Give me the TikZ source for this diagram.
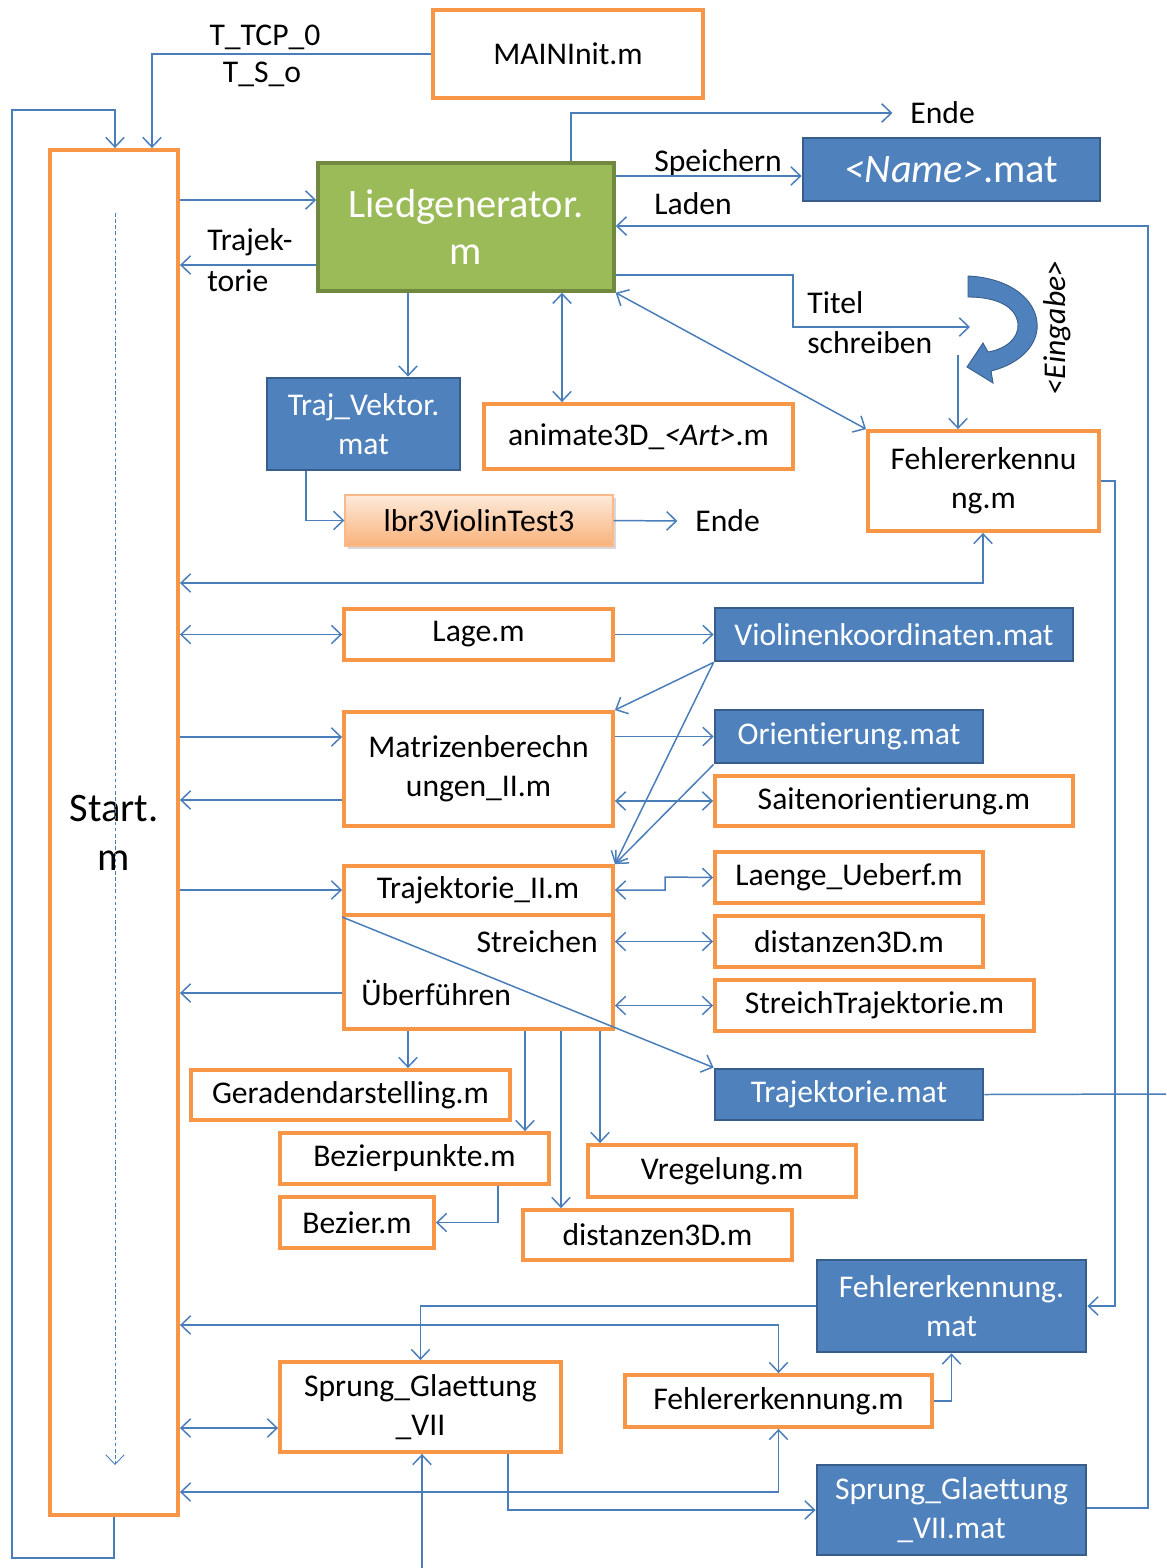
\documentclass[tikz,border=0pt]{standalone}
\usepackage{fontspec}
\setmainfont[Ligatures=NoCommon]{Carlito}
\usetikzlibrary{arrows.meta,shadows}
\definecolor{obord}{HTML}{F79646}
\definecolor{bfill}{HTML}{4F81BD}
\definecolor{bbord}{HTML}{385D8A}
\definecolor{gfill}{HTML}{9BBB59}
\definecolor{gbord}{HTML}{71893F}
\definecolor{conn}{HTML}{4A7EBB}
\definecolor{lbrtop}{HTML}{FDEADA}
\definecolor{lbrbot}{HTML}{F9B27A}
\definecolor{lbrline}{HTML}{F9B98A}

% box from its corner pixels: name, style, x1, y1, x2, y2, text
\newcommand\mkbox[7]{%
  \pgfmathsetmacro\mkw{(#5-#3)*0.02}%
  \pgfmathsetmacro\mkh{(#6-#4)*0.02}%
  \node[#2, minimum width=\mkw cm, minimum height=\mkh cm] (#1) at ({(#3+#5)/2},{(#4+#6)/2}) {#7};%
}

\begin{document}
\begin{tikzpicture}[x=0.02cm,y=-0.02cm,
  every node/.style={font=\fontsize{18}{22}\selectfont, inner sep=0pt},
  obox/.style={draw=obord, line width=2.2pt, fill=white, align=center},
  bbox/.style={draw=bbord, line width=1.6pt, fill=bfill, text=white, align=center},
  gbox/.style={draw=gbord, line width=2pt, fill=gfill, text=white, align=center,
               font=\fontsize{23}{27}\selectfont},
  lbrbox/.style={draw=lbrline, line width=0.8pt, top color=lbrtop, bottom color=lbrbot,
               drop shadow={shadow xshift=1.5pt, shadow yshift=-1.5pt, opacity=0.3}},
  wire/.style={draw=conn, line width=0.85pt},
  >={Straight Barb[length=5.5pt,width=10.5pt]}
]
\useasboundingbox (0,0) rectangle (1166,1568);
\fill[white] (0,0) rectangle (1166,1568);

% ---------- boxes ----------
\mkbox{main}{obox}{433}{10}{703}{98}{MAINInit.m}
\mkbox{start}{obox, font=\fontsize{23}{28}\selectfont}{50}{150}{178}{1515}{Start.\\m}
\mkbox{lied}{gbox}{318}{163}{614}{291}{Liedgenerator.\\m}
\mkbox{name}{bbox, font=\fontsize{23}{27}\selectfont}{803}{138}{1100}{201}{{\itshape <Name>}.mat}
\mkbox{tvek}{bbox}{267}{378}{460}{470}{Traj\_Vektor.\\mat}
\mkbox{anim}{obox}{484}{404}{793}{469}{animate3D\_{\itshape <Art>}.m}
\mkbox{fehl1}{obox}{868}{431}{1099}{531}{Fehlererkennu\\ng.m}
\mkbox{lbr}{lbrbox}{345}{495}{613}{546}{lbr3ViolinTest3}
\mkbox{lage}{obox}{344}{609}{613}{660}{Lage.m}
\mkbox{viol}{bbox}{715}{608}{1073}{661}{Violinenkoordinaten.mat}
\mkbox{matr}{obox}{344}{712}{613}{826}{Matrizenberechn\\ungen\_II.m}
\mkbox{orie}{bbox}{715}{710}{983}{763}{Orientierung.mat}
\mkbox{sait}{obox}{715}{776}{1073}{826}{Saitenorientierung.m}
\mkbox{traj}{obox}{344}{866}{613}{1029}{}
\mkbox{laen}{obox}{715}{852}{983}{903}{Laenge\_Ueberf.m}
\mkbox{dist1}{obox}{715}{916}{983}{967}{distanzen3D.m}
\mkbox{stre}{obox}{715}{980}{1034}{1031}{StreichTrajektorie.m}
\mkbox{tmat}{bbox}{715}{1069}{983}{1120}{Trajektorie.mat}
\mkbox{gera}{obox}{191}{1070}{510}{1120}{Geradendarstelling.m}
\mkbox{bezp}{obox}{280}{1133}{549}{1184}{Bezierpunkte.m}
\mkbox{vreg}{obox}{588}{1145}{856}{1197}{Vregelung.m}
\mkbox{bez}{obox}{280}{1197}{434}{1248}{Bezier.m}
\mkbox{dist2}{obox}{523}{1210}{792}{1260}{distanzen3D.m}
\mkbox{fmat}{bbox}{817}{1260}{1086}{1352}{Fehlererkennung.\\mat}
\mkbox{sg}{obox}{280}{1362}{561}{1452}{Sprung\_Glaettung\\\_VII}
\mkbox{fer2}{obox}{625}{1375}{932}{1427}{Fehlererkennung.m}
\mkbox{sgmat}{bbox}{817}{1465}{1086}{1555}{Sprung\_Glaettung\\\_VII.mat}

% divider and texts of Trajektorie_II.m
\draw[draw=obord, line width=2.2pt] (traj.west |- 0,915) -- (traj.east |- 0,915);
\node (trajt) at (478,890) {Trajektorie\_II.m};
\node[anchor=east] (trajs) at (598,942) {Streichen};
\node[anchor=west] (traju) at (361,993) {Überführen};

% ---------- labels ----------
\node (ltcp) at (265,37) {T\_TCP\_0};
\node (lts) at (262,74) {T\_S\_o};
\node[anchor=west] (ltra) at (207,242) {Trajek-};
\node[anchor=west] (ltor) at (207,281) {torie};
\node[anchor=west] (lsp) at (654,163) {Speichern};
\node[anchor=west] (lla) at (654,204) {Laden};
\node[anchor=west] (lti) at (807,303) {Titel};
\node[anchor=west] (lsc) at (807,343) {schreiben};
\node[anchor=west] (ende1) at (910,113) {Ende};
\node[anchor=west] (ende2) at (695,521) {Ende};
\node[rotate=90] (eing) at (1057,328) {\itshape <Eingabe>};

% curved input arrow
\fill[bfill, draw=bbord, line width=0.5pt]
  (968,276) .. controls (1012,278) and (1040,302) .. (1037,330)
  .. controls (1034,352) and (1012,366) .. (991,371)
  -- (993,383) -- (967,367) -- (983,343) -- (988,352)
  .. controls (1006,349) and (1019,338) .. (1018,324)
  .. controls (1016,306) and (996,297) .. (968,297) -- cycle;
\coordinate (eingIn) at (970,327);
\coordinate (eingOut) at (958,355);
\coordinate (offR) at (1166,1094);
\coordinate (offB) at (422,1568);

% dashed run line inside Start.m
\draw[draw=conn, line width=0.5pt, dash pattern=on 2pt off 1.5pt, ->] (115,213) -- (115,1465);

% ---------- connectors ----------
\begin{scope}[wire]
\draw[->] (main.west) -- (main.west -| 152,0) -- (start.north -| 152,0);
\draw[->] (start.south) -- (start.south |- 0,1558) -- (12,1558) -- (12,110) -- (115,110) -- (start.north -| 115,0);
\draw[->] (start.east |- 0,200) -- (lied.west |- 0,200);
\draw[->] (lied.west |- 0,265) -- (start.east |- 0,265);
\draw[->] (lied.north -| 571,0) |- ([xshift=-10pt]ende1.west);
\draw[->] (lied.east |- 0,176) -- (name.west |- 0,176);
\draw[->] (sgmat.east |- 0,1508) -- (1148,1508) -- (1148,226) -- (lied.east |- 0,226);
\draw[->] (lied.east |- 0,275) -- (793,275) -- (793,327) -- (eingIn);
\draw[->] (eingOut) -- (fehl1.north -| eingOut);
\draw[<->] (lied.south east) -- (fehl1.north west);
\draw[->] (lied.south -| 408,0) -- (tvek.north -| 408,0);
\draw[<->] (lied.south -| 562,0) -- (anim.north -| 562,0);
\draw[->] (tvek.south -| 306,0) |- (lbr.west);
\draw[->] (lbr.east) -- ([xshift=-10pt]ende2.west);
\draw[<->] (fehl1.south -| 983,0) |- (start.east |- 0,583);
\draw[->] (fehl1.east |- 0,481) -- (1115,481) |- (fmat.east);

\draw[<->] (start.east |- lage.west) -- (lage.west);
\draw[->] (lage.east) -- (viol.west);
\draw[->] (viol.south west) -- (matr.north east);
\draw[->] (viol.south west) -- (traj.north east);
\draw[->] (start.east |- 0,737) -- (matr.west |- 0,737);
\draw[->] (matr.west |- 0,800) -- (start.east |- 0,800);
\draw[->] (matr.east |- orie.west) -- (orie.west);
\draw[<->] (matr.east |- sait.west) -- (sait.west);
\draw[->] (orie.south west) -- (traj.north east);

\draw[->] (start.east |- 0,890) -- (traj.west |- 0,890);
\draw[<->] (traj.east |- 0,890) -- (665,890) -- (665,877) -- (laen.west);
\draw[<->] (traj.east |- dist1.west) -- (dist1.west);
\draw[<->] (traj.east |- stre.west) -- (stre.west);
\draw[->] (traj.west |- 0,993) -- (start.east |- 0,993);
\draw[->] (traj.west |- 0,917) -- (tmat.north west);
\draw[->] (traj.south -| 408,0) -- (gera.north -| 408,0);
\draw[->] (traj.south -| 525,0) -- (bezp.north -| 525,0);
\draw[->] (traj.south -| 561,0) -- (dist2.north -| 561,0);
\draw[->] (traj.south -| 600,0) -- (vreg.north -| 600,0);
\draw[->] (bezp.south -| 498,0) |- (bez.east);
\draw (tmat.east) -- (offR);

\draw[->] (fmat.west) -| (sg.north);
\draw[<->] (start.east |- 0,1325) -| (fer2.north);
\draw[->] (fer2.east) -| (fmat.south);
\draw[<->] (start.east |- 0,1428) -- (sg.west |- 0,1428);
\draw[<->] (start.east |- 0,1492) -| (fer2.south);
\draw[->] (sg.south -| 508,0) |- (sgmat.west);
\draw[->] (offB) -- (offB |- sg.south);
\end{scope}
\end{tikzpicture}
\end{document}
